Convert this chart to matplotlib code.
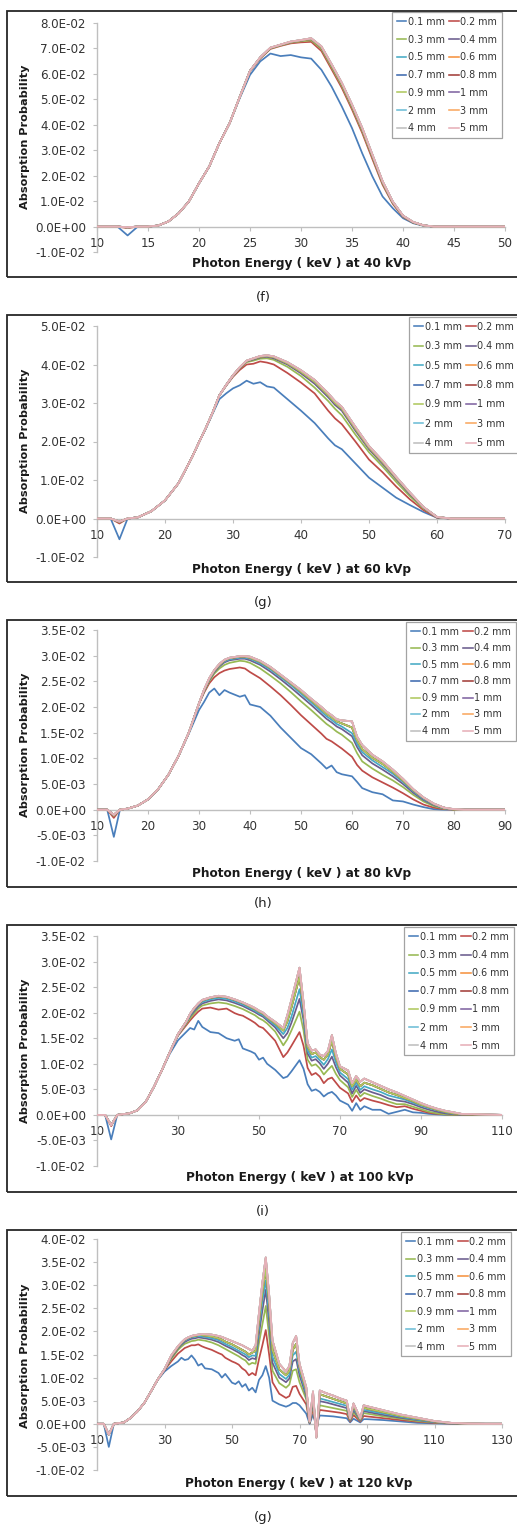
import numpy as np
import matplotlib
matplotlib.use("Agg")
import matplotlib.pyplot as plt
from matplotlib.ticker import FuncFormatter
from matplotlib.patches import Rectangle
from matplotlib.lines import Line2D

# ---------------- data (absorption probability in units of 1e-3) ----------------
LABELS = ['0.1 mm', '0.2 mm', '0.3 mm', '0.4 mm', '0.5 mm', '0.6 mm', '0.7 mm',
          '0.8 mm', '0.9 mm', '1 mm', '2 mm', '3 mm', '4 mm', '5 mm']
COLORS = ['#4A7EBB', '#BE4B48', '#98B954', '#6A5D8E', '#46AAC5', '#F69240', '#3F6AB0',
          '#A33E3A', '#AFC95F', '#8064A2', '#6DBDD6', '#F9A860', '#BFBFBF', '#E6B0B8']

# 40 kVp
E40 = [10, 12, 13, 14, 15, 16, 17, 18, 19, 20, 21, 22, 23, 24,
       25, 26, 27, 28, 29, 30, 31, 32, 33, 34, 35, 36, 37, 38, 39, 40, 41, 42, 43, 50]
Y40_01 = [0, 0, -3.5, 0, 0, 0.4, 2.0, 5.2, 9.8, 17.0, 23.6, 32.8, 40.6, 50.5,
          59.6, 64.9, 68.0, 67.0, 67.4, 66.5, 66.0, 61.6, 55.0, 47.2, 38.7, 28.8, 19.7, 11.8, 7.2, 3.3, 1.3, 0.3, 0, 0]
Y40_02 = [0, 0, -0.6, 0, 0, 0.4, 2.0, 5.2, 9.8, 17.0, 23.6, 32.8, 40.6, 51.0,
          61.0, 66.0, 69.8, 71.0, 72.0, 72.4, 72.6, 69.0, 61.8, 54.5, 46.0, 36.8, 26.5, 16.4, 8.9, 3.8, 1.5, 0.4, 0, 0]
Y40_03 = [0, 0, -0.4, 0, 0, 0.4, 2.0, 5.2, 9.8, 17.0, 23.6, 32.8, 40.6, 51.0,
          61.1, 66.2, 70.0, 71.2, 72.3, 72.8, 73.2, 69.8, 62.6, 55.3, 46.8, 37.6, 27.3, 17.0, 9.3, 4.0, 1.6, 0.4, 0, 0]
Y40_mid = [0, 0, -0.3, 0, 0, 0.4, 2.0, 5.2, 9.8, 17.0, 23.6, 32.8, 40.6, 51.0,
           61.2, 66.4, 70.2, 71.4, 72.5, 73.1, 73.7, 70.4, 63.3, 56.0, 47.5, 38.3, 27.9, 17.5, 9.6, 4.2, 1.7, 0.5, 0, 0]
Y40_top = [0, 0, -0.3, 0, 0, 0.4, 2.0, 5.2, 9.8, 17.0, 23.6, 32.8, 40.6, 51.0,
           61.2, 66.5, 70.3, 71.5, 72.7, 73.3, 74.0, 70.8, 63.8, 56.5, 48.0, 38.8, 28.3, 17.8, 9.8, 4.3, 1.8, 0.5, 0, 0]

# 60 kVp
E60 = [10, 12, 13.3, 14.5, 16, 18, 20, 22, 24, 25, 26, 27,
       28, 29, 30, 31, 32, 33, 34, 35, 36,
       38, 40, 42, 44, 45, 46, 48,
       50, 52, 54, 56, 58, 60, 62, 70]
Y60_01 = [0, 0, -5.4, 0, 0.3, 1.9, 4.7, 9.2, 16.0, 19.8, 23.3, 27.2,
          31.0, 32.5, 33.8, 34.6, 35.8, 35.0, 35.4, 34.3, 34.0,
          31.0, 28.0, 24.8, 20.8, 19.0, 18.0, 14.3,
          10.6, 8.0, 5.4, 3.5, 1.7, 0.2, 0, 0]
Y60_02 = [0, 0, -1.3, 0, 0.3, 1.9, 4.7, 9.2, 16.0, 19.8, 23.5, 27.5,
          32.0, 34.5, 36.8, 38.6, 40.0, 40.2, 40.8, 40.5, 40.0,
          37.8, 35.3, 32.5, 28.0, 26.0, 24.5, 20.0,
          15.3, 12.0, 8.3, 5.0, 2.2, 0.2, 0, 0]
Y60_03 = [0, 0, -1.0, 0, 0.3, 1.9, 4.7, 9.2, 16.0, 19.8, 23.5, 27.5,
          32.0, 34.6, 37.0, 39.0, 40.6, 41.0, 41.5, 41.6, 41.2,
          39.4, 37.0, 34.0, 30.5, 28.5, 26.8, 21.8,
          17.2, 13.5, 9.5, 5.8, 2.6, 0.3, 0, 0]
Y60_04 = [0, 0, -0.9, 0, 0.3, 1.9, 4.7, 9.2, 16.0, 19.8, 23.5, 27.5,
          32.0, 34.6, 37.1, 39.1, 40.8, 41.3, 41.8, 42.0, 41.6,
          40.0, 37.7, 35.0, 31.5, 29.5, 28.0, 22.8,
          18.0, 14.2, 10.2, 6.3, 2.8, 0.3, 0, 0]
Y60_mid = [0, 0, -0.8, 0, 0.3, 1.9, 4.7, 9.2, 16.0, 19.8, 23.5, 27.5,
           32.0, 34.7, 37.2, 39.2, 40.9, 41.5, 42.0, 42.2, 41.9,
           40.3, 38.1, 35.5, 32.0, 30.0, 28.5, 23.3,
           18.4, 14.6, 10.5, 6.6, 2.9, 0.4, 0, 0]
Y60_top = [0, 0, -0.8, 0, 0.3, 1.9, 4.7, 9.2, 16.0, 19.8, 23.5, 27.5,
           32.0, 34.7, 37.2, 39.3, 41.0, 41.6, 42.2, 42.4, 42.1,
           40.6, 38.5, 36.0, 32.5, 30.5, 29.0, 23.8,
           18.8, 15.0, 10.8, 6.8, 3.0, 0.4, 0, 0]

# 80 kVp
E80 = [10, 12, 13.3, 14.5, 16, 18, 20, 22, 24, 26, 28, 30,
       31, 32, 33, 34, 35, 36,
       38, 39, 40,
       42, 44, 46, 48, 50, 52, 54,
       55, 56, 57, 58,
       60, 61, 62, 64, 66, 68, 70, 72, 74, 76, 78, 80, 82, 90]
Y80_01 = [0, 0, -5.3, 0, 0.2, 0.8, 2.0, 4.0, 6.8, 10.5, 14.8, 19.4,
          21.0, 22.8, 23.6, 22.3, 23.3, 22.8,
          22.0, 22.3, 20.5,
          20.0, 18.3, 16.0, 14.0, 12.0, 10.8, 9.0,
          8.0, 8.6, 7.3, 6.9,
          6.5, 5.4, 4.2, 3.4, 3.0, 1.8, 1.6, 1.0, 0.5, 0.1, 0, 0, 0, 0]
Y80_02 = [0, 0, -1.6, 0, 0.2, 0.8, 2.0, 4.0, 6.8, 10.5, 15.0, 20.6,
          22.8, 24.6, 25.8, 26.6, 27.1, 27.4,
          27.7, 27.5, 26.8,
          25.6, 24.0, 22.3, 20.4, 18.4, 16.6, 14.8,
          13.8, 13.3, 12.6, 11.9,
          10.3, 8.7, 7.6, 6.3, 5.3, 4.3, 3.2, 2.0, 1.0, 0.4, 0.1, 0, 0, 0]
Y80_03 = [0, 0, -1.2, 0, 0.2, 0.8, 2.0, 4.0, 6.8, 10.5, 15.0, 20.7,
          23.0, 25.0, 26.5, 27.5, 28.2, 28.6,
          29.0, 28.9, 28.6,
          27.5, 26.1, 24.6, 22.9, 21.1, 19.4, 17.6,
          16.7, 16.0, 15.2, 14.6,
          13.0, 11.0, 9.4, 8.0, 6.8, 5.7, 4.4, 2.9, 1.6, 0.7, 0.2, 0, 0, 0]
Y80_04 = [0, 0, -1.1, 0, 0.2, 0.8, 2.0, 4.0, 6.8, 10.5, 15.0, 20.7,
          23.1, 25.2, 26.8, 27.9, 28.7, 29.1,
          29.4, 29.4, 29.1,
          28.2, 26.9, 25.4, 23.8, 22.1, 20.4, 18.6,
          17.7, 17.0, 16.2, 15.7,
          14.3, 12.2, 10.6, 9.0, 7.8, 6.5, 5.0, 3.3, 1.9, 0.9, 0.3, 0, 0, 0]
Y80_05 = [0, 0, -1.0, 0, 0.2, 0.8, 2.0, 4.0, 6.8, 10.5, 15.0, 20.7,
          23.2, 25.3, 27.0, 28.1, 28.9, 29.3,
          29.6, 29.6, 29.4,
          28.5, 27.3, 25.8, 24.3, 22.6, 20.9, 19.1,
          18.2, 17.5, 16.7, 16.2,
          14.9, 12.8, 11.2, 9.6, 8.3, 7.0, 5.4, 3.6, 2.1, 1.0, 0.3, 0, 0, 0]
Y80_mid = [0, 0, -1.0, 0, 0.2, 0.8, 2.0, 4.0, 6.8, 10.5, 15.0, 20.7,
           23.3, 25.4, 27.1, 28.2, 29.1, 29.5,
           29.8, 29.8, 29.6,
           28.8, 27.6, 26.1, 24.6, 23.0, 21.3, 19.6,
           18.7, 18.0, 17.2, 16.8,
           16.0, 13.5, 11.8, 10.1, 8.9, 7.4, 5.7, 3.8, 2.3, 1.1, 0.4, 0, 0, 0]
Y80_top = [0, 0, -1.0, 0, 0.2, 0.8, 2.0, 4.0, 6.8, 10.5, 15.0, 20.7,
           23.4, 25.6, 27.2, 28.4, 29.2, 29.6,
           29.9, 29.9, 29.8,
           29.0, 27.8, 26.3, 24.8, 23.3, 21.6, 20.0,
           19.1, 18.4, 17.6, 17.4,
           17.2, 14.2, 12.6, 10.7, 9.4, 7.8, 6.0, 4.0, 2.4, 1.2, 0.4, 0.1, 0, 0]

# 100 kVp
E100 = [10, 12, 13.5, 15, 16, 18, 20, 22, 24, 26, 28, 30,
        32, 33, 34, 35, 36,
        38, 40, 42, 44, 45, 46, 48, 49, 50, 51, 52, 54,
        56, 57, 58, 60, 61, 62, 63, 64, 65, 66, 67, 68, 69, 70,
        72, 73, 74, 75, 76, 78,
        80, 82, 84, 86, 88, 90, 92, 94, 96, 98, 100, 110]
Y100_01 = [0, 0, -4.8, 0, 0.1, 0.3, 0.9, 2.5, 5.4, 8.7, 12.0, 14.6,
           16.2, 17.0, 16.7, 18.4, 17.2,
           16.2, 16.0, 15.0, 14.5, 14.8, 13.0, 12.4, 12.0, 10.8, 11.2, 10.0, 8.8,
           7.2, 7.5, 8.5, 10.7, 9.0, 6.0, 4.7, 5.0, 4.5, 3.6, 4.2, 4.5, 3.8, 2.8,
           2.0, 0.8, 2.3, 1.0, 1.7, 1.0,
           1.0, 0.2, 0.6, 1.0, 0.5, 0.4, 0.2, 0.1, 0, 0, 0, 0]
Y100_02 = [0, 0, -2.2, 0, 0.1, 0.3, 0.9, 2.5, 5.4, 8.7, 12.3, 15.5,
           17.5, 18.5, 19.4, 20.2, 20.8,
           21.0, 20.6, 20.8, 19.9, 19.6, 19.4, 18.5, 18.0, 17.3, 17.0, 16.2, 14.5,
           11.3, 12.2, 13.5, 16.2, 13.5, 9.2, 7.8, 8.2, 7.5, 6.2, 7.0, 7.3, 6.3, 5.3,
           4.2, 2.5, 3.8, 2.7, 3.3, 2.8,
           2.4, 1.9, 1.5, 1.7, 1.2, 0.8, 0.4, 0.2, 0.1, 0, 0, 0]
Y100_03 = [0, 0, -2.0, 0, 0.1, 0.3, 0.9, 2.5, 5.4, 8.7, 12.3, 15.6,
           17.8, 18.9, 19.9, 20.8, 21.4,
           21.8, 22.0, 21.8, 21.3, 21.0, 20.7, 19.9, 19.5, 18.9, 18.5, 17.9, 16.3,
           13.6, 14.8, 16.5, 20.2, 16.5, 10.8, 9.6, 9.9, 9.1, 7.9, 8.8, 9.6, 8.0, 6.8,
           5.4, 3.5, 4.9, 3.6, 4.3, 3.7,
           3.2, 2.6, 2.1, 2.1, 1.6, 1.1, 0.6, 0.3, 0.1, 0, 0, 0]
Y100_04 = [0, 0, -2.0, 0, 0.1, 0.3, 0.9, 2.5, 5.4, 8.7, 12.3, 15.7,
           18.0, 19.3, 20.3, 21.2, 21.8,
           22.3, 22.6, 22.4, 21.9, 21.6, 21.3, 20.5, 20.1, 19.6, 19.2, 18.5, 17.1,
           15.0, 16.0, 18.0, 22.7, 18.5, 12.0, 10.6, 10.9, 10.1, 9.0, 10.0, 11.4, 9.3, 7.7,
           6.3, 4.2, 5.7, 4.3, 5.0, 4.4,
           3.9, 3.2, 2.8, 2.6, 2.1, 1.5, 1.0, 0.6, 0.3, 0.1, 0, 0]
Y100_05 = [0, 0, -2.0, 0, 0.1, 0.3, 0.9, 2.5, 5.4, 8.7, 12.3, 15.7,
           18.1, 19.5, 20.6, 21.5, 22.1,
           22.6, 22.9, 22.7, 22.2, 21.9, 21.6, 20.8, 20.4, 19.9, 19.5, 18.8, 17.5,
           15.8, 17.0, 19.2, 24.6, 19.5, 12.6, 11.2, 11.5, 10.7, 9.8, 10.9, 12.8, 10.2, 8.3,
           7.0, 4.9, 6.3, 4.9, 5.6, 5.0,
           4.5, 3.8, 3.4, 3.0, 2.4, 1.8, 1.3, 0.9, 0.5, 0.2, 0.1, 0]
Y100_mid = [0, 0, -2.0, 0, 0.1, 0.3, 0.9, 2.5, 5.4, 8.7, 12.3, 15.8,
            18.2, 19.7, 20.8, 21.7, 22.4,
            22.9, 23.2, 23.0, 22.5, 22.2, 21.9, 21.1, 20.7, 20.2, 19.8, 19.1, 17.9,
            16.5, 18.3, 21.0, 27.0, 21.0, 13.4, 11.9, 12.2, 11.3, 10.8, 11.8, 14.5, 11.2, 9.0,
            7.9, 5.6, 6.9, 5.6, 6.3, 5.8,
            5.1, 4.4, 3.9, 3.3, 2.7, 2.0, 1.5, 1.0, 0.6, 0.3, 0.1, 0]
Y100_top = [0, 0, -2.0, 0, 0.1, 0.3, 0.9, 2.5, 5.4, 8.7, 12.3, 15.8,
            18.2, 19.8, 20.9, 21.8, 22.5,
            23.0, 23.3, 23.1, 22.6, 22.3, 22.0, 21.3, 20.9, 20.4, 20.0, 19.3, 18.2,
            17.0, 19.5, 22.5, 28.8, 22.0, 14.0, 12.6, 12.8, 11.8, 11.5, 12.5, 15.6, 12.0, 9.5,
            8.7, 6.2, 7.6, 6.5, 7.1, 6.4,
            5.7, 5.0, 4.4, 3.7, 3.0, 2.3, 1.7, 1.2, 0.8, 0.5, 0.2, 0]

# 120 kVp
E120 = [10, 12, 13.5, 15, 16, 18, 20, 22, 24, 26, 28, 30,
        32, 34, 35, 36, 37, 38, 39, 40, 41, 42,
        44, 46, 47, 48, 50, 51, 52, 53, 54, 55, 56, 57,
        58, 59, 60, 61, 62, 64, 66, 67, 68, 69, 70,
        72, 73, 74, 75, 76, 78,
        80, 82, 84, 85, 86, 88, 89, 90,
        95, 100, 105, 110, 115, 120, 125, 130]
Y120_01 = [0, 0, -5.0, 0, 0.1, 0.3, 1.3, 2.7, 4.5, 7.0, 9.5, 11.3,
           12.5, 13.5, 14.3, 13.8, 14.0, 14.8, 13.9, 12.6, 13.0, 12.0,
           11.8, 11.0, 10.0, 10.8, 8.9, 8.6, 9.2, 8.0, 8.6, 7.2, 7.8, 6.8,
           9.5, 10.5, 12.5, 10.0, 5.0, 4.2, 3.7, 4.0, 4.5, 4.5, 4.0,
           2.2, 0.0, 2.0, -0.5, 1.8, 1.7,
           1.6, 1.4, 1.2, 0.3, 1.1, 0.3, 1.0, 1.0,
           0.8, 0.5, 0.2, 0.1, 0, 0, 0, 0]
Y120_02 = [0, 0, -2.3, 0, 0.1, 0.3, 1.3, 2.7, 4.5, 7.0, 9.6, 11.6,
           13.5, 15.2, 15.8, 16.4, 16.7, 17.0, 17.0, 17.2, 16.8, 16.5,
           16.0, 15.3, 15.0, 14.3, 13.5, 13.2, 12.8, 12.0, 11.5, 10.5, 11.0, 10.5,
           14.0, 17.0, 20.3, 15.0, 9.0, 6.5, 5.6, 6.0, 8.0, 8.2, 6.5,
           4.2, 0.1, 3.3, -1.2, 3.0, 2.8,
           2.6, 2.4, 2.1, 0.5, 1.9, 0.5, 1.7, 1.6,
           1.2, 0.8, 0.45, 0.2, 0.05, 0, 0, 0]
Y120_03 = [0, 0, -2.3, 0, 0.1, 0.3, 1.3, 2.7, 4.5, 7.0, 9.6, 11.7,
           14.0, 16.0, 16.7, 17.3, 17.6, 17.9, 18.0, 18.2, 18.1, 18.0,
           17.6, 17.0, 16.6, 16.2, 15.4, 15.0, 14.6, 14.1, 13.7, 12.8, 13.2, 13.0,
           17.5, 21.5, 25.5, 19.0, 11.5, 8.8, 7.8, 8.5, 11.5, 11.8, 9.0,
           5.3, 0.2, 4.3, -1.8, 4.0, 3.7,
           3.4, 3.1, 2.8, 0.7, 2.5, 0.7, 2.3, 2.2,
           1.6, 1.1, 0.6, 0.3, 0.08, 0, 0, 0]
Y120_04 = [0, 0, -2.3, 0, 0.1, 0.3, 1.3, 2.7, 4.5, 7.0, 9.6, 11.7,
           14.3, 16.3, 17.1, 17.7, 18.1, 18.4, 18.5, 18.7, 18.6, 18.5,
           18.2, 17.7, 17.3, 16.9, 16.2, 15.8, 15.4, 14.9, 14.5, 13.8, 14.2, 14.0,
           19.5, 24.5, 29.0, 22.0, 13.2, 10.0, 9.0, 9.8, 13.5, 14.0, 10.5,
           6.0, 0.2, 5.0, -2.2, 4.9, 4.6,
           4.2, 3.8, 3.4, 0.8, 3.0, 0.8, 2.7, 2.6,
           1.9, 1.3, 0.8, 0.35, 0.1, 0, 0, 0]
Y120_05 = [0, 0, -2.3, 0, 0.1, 0.3, 1.3, 2.7, 4.5, 7.0, 9.6, 11.8,
           14.5, 16.5, 17.3, 18.0, 18.4, 18.7, 18.8, 19.0, 18.9, 18.8,
           18.5, 18.1, 17.7, 17.3, 16.6, 16.2, 15.8, 15.4, 15.0, 14.4, 14.8, 14.7,
           21.0, 26.5, 31.0, 24.0, 14.5, 10.8, 9.7, 10.6, 14.8, 15.6, 11.5,
           6.5, 0.3, 5.5, -2.5, 5.5, 5.1,
           4.7, 4.3, 3.9, 0.9, 3.4, 0.9, 3.0, 2.9,
           2.2, 1.5, 0.9, 0.4, 0.12, 0, 0, 0]
Y120_mid = [0, 0, -2.3, 0, 0.1, 0.3, 1.3, 2.7, 4.5, 7.0, 9.6, 11.8,
            14.6, 16.6, 17.5, 18.2, 18.6, 18.9, 19.0, 19.2, 19.2, 19.1,
            18.9, 18.5, 18.2, 17.8, 17.2, 16.8, 16.4, 16.0, 15.6, 15.0, 15.4, 15.8,
            22.5, 28.5, 33.5, 26.0, 16.0, 11.8, 10.5, 11.5, 16.0, 17.3, 12.3,
            7.2, 0.4, 6.2, -2.8, 6.4, 5.9,
            5.4, 4.9, 4.4, 1.0, 3.9, 1.0, 3.5, 3.3,
            2.5, 1.7, 1.1, 0.5, 0.15, 0.03, 0, 0]
Y120_top = [0, 0, -2.3, 0, 0.1, 0.3, 1.3, 2.7, 4.5, 7.0, 9.6, 11.8,
            14.8, 16.8, 17.6, 18.3, 18.7, 19.0, 19.2, 19.3, 19.4, 19.4,
            19.3, 19.0, 18.8, 18.5, 17.9, 17.6, 17.3, 17.0, 16.6, 16.2, 15.8, 17.0,
            24.0, 30.5, 36.0, 28.0, 18.0, 13.0, 11.3, 12.5, 17.5, 19.0, 13.0,
            7.9, 0.5, 7.0, -3.0, 7.2, 6.6,
            6.1, 5.5, 5.0, 1.2, 4.4, 1.2, 4.0, 3.8,
            2.9, 2.0, 1.3, 0.6, 0.2, 0.05, 0, 0]

TITLES = ['Photon Energy ( keV ) at 40 kVp', 'Photon Energy ( keV ) at 60 kVp',
          'Photon Energy ( keV ) at 80 kVp', 'Photon Energy ( keV ) at 100 kVp',
          'Photon Energy ( keV ) at 120 kVp']
CAPTIONS = ['(f)', '(g)', '(h)', '(i)', '(g)']

# ---------------- layout ----------------
W, H = 517, 1527
fig = plt.figure(figsize=(W / 100, H / 100), dpi=100)
fig.patch.set_facecolor('white')


def fx(x):
    return x / W


def fy(y):
    return 1 - y / H


PANELS = [
    dict(E=E40, S=[Y40_01, Y40_02, Y40_03] + [Y40_mid] * 6 + [Y40_top] * 5,
         xlim=(10, 50), xstep=5, ylim=(-0.01, 0.08), ystep=0.01,
         box=(11, 277), ax=(97, 505, 23, 252), title_xy=(302, 264), ylab_y=137,
         leg=(392, 12), ls=0.81, cap_y=297),
    dict(E=E60, S=[Y60_01, Y60_02, Y60_03, Y60_04] + [Y60_mid] * 5 + [Y60_top] * 5,
         xlim=(10, 70), xstep=10, ylim=(-0.01, 0.05), ystep=0.01,
         box=(315, 582), ax=(97, 505, 326, 557), title_xy=(302, 569), ylab_y=441,
         leg=(409, 317), ls=0.98, cap_y=602),
    dict(E=E80, S=[Y80_01, Y80_02, Y80_03, Y80_04, Y80_05] + [Y80_mid] * 4 + [Y80_top] * 5,
         xlim=(10, 90), xstep=10, ylim=(-0.01, 0.035), ystep=0.005,
         box=(620, 887), ax=(97, 505, 630, 861), title_xy=(302, 873), ylab_y=745,
         leg=(406, 622), ls=0.68, cap_y=903),
    dict(E=E100, S=[Y100_01, Y100_02, Y100_03, Y100_04, Y100_05] + [Y100_mid] * 4 + [Y100_top] * 5,
         xlim=(10, 110), xstep=20, ylim=(-0.01, 0.035), ystep=0.005,
         box=(925, 1192), ax=(97, 502, 936, 1166), title_xy=(300, 1178), ylab_y=1051,
         leg=(404, 927), ls=0.85, cap_y=1211),
    dict(E=E120, S=[Y120_01, Y120_02, Y120_03, Y120_04, Y120_05] + [Y120_mid] * 4 + [Y120_top] * 5,
         xlim=(10, 130), xstep=20, ylim=(-0.01, 0.04), ystep=0.005,
         box=(1230, 1496), ax=(97, 502, 1239, 1470), title_xy=(299, 1483), ylab_y=1356,
         leg=(401, 1232), ls=0.78, cap_y=1517),
]


def sci(v, pos):
    if abs(v) < 1e-12:
        v = 0.0
    return f"{v:.1E}"


AXIS_GREY = '#BFBFBF'
TICK_TXT = '#333333'

for i, P in enumerate(PANELS):
    # outer frame
    top, bot = P['box']
    fig.patches.append(Rectangle((fx(7), fy(bot)), fx(520) - fx(7), fy(top) - fy(bot),
                                 transform=fig.transFigure, fill=False,
                                 edgecolor='#262626', lw=1.3, zorder=0))
    x0, x1, yt, yb = P['ax']
    ax = fig.add_axes([fx(x0), fy(yb), fx(x1) - fx(x0), fy(yt) - fy(yb)])
    ax.set_facecolor('none')
    for k, (lab, col, ys) in enumerate(zip(LABELS, COLORS, P['S'])):
        assert len(ys) == len(P['E']), (i, k, len(ys), len(P['E']))
        ax.plot(P['E'], np.asarray(ys) * 1e-3, color=col, lw=1.25, label=lab,
                solid_joinstyle='round', zorder=3 + k)
    ax.set_xlim(*P['xlim'])
    ax.set_ylim(*P['ylim'])
    ax.set_xticks(np.arange(P['xlim'][0], P['xlim'][1] + 0.1, P['xstep']))
    yt_vals = np.round(np.arange(P['ylim'][0], P['ylim'][1] + 1e-9, P['ystep']), 6)
    ax.set_yticks(yt_vals)
    ax.yaxis.set_major_formatter(FuncFormatter(sci))
    ax.xaxis.set_major_formatter(FuncFormatter(lambda v, p: f"{int(round(v))}"))
    for s in ('top', 'right'):
        ax.spines[s].set_visible(False)
    ax.spines['bottom'].set_position(('data', 0))
    ax.spines['bottom'].set_color(AXIS_GREY)
    ax.spines['left'].set_color(AXIS_GREY)
    ax.spines['bottom'].set_linewidth(1.0)
    ax.spines['left'].set_linewidth(1.0)
    ax.spines['bottom'].set_zorder(2)
    ax.tick_params(axis='y', length=3, width=0.8, color=AXIS_GREY, pad=5.0,
                   labelsize=8.6, labelcolor=TICK_TXT, direction='out')
    ax.tick_params(axis='x', length=3, width=0.8, color=AXIS_GREY, pad=4.5,
                   labelsize=8.6, labelcolor=TICK_TXT, direction='out')
    # axis titles
    tx, ty = P['title_xy']
    fig.text(fx(tx), fy(ty), TITLES[i], ha='center', va='center',
             fontsize=8.7, fontweight='bold', color='#1a1a1a')
    fig.text(fx(25), fy(P['ylab_y']), 'Absorption Probability', ha='center', va='center',
             rotation=90, fontsize=8.1, fontweight='bold', color='#1a1a1a')
    # legend (row-major like Excel: col1 = odd entries, col2 = even entries)
    handles = [Line2D([], [], color=c, lw=1.15) for c in COLORS]
    order = list(range(0, 14, 2)) + list(range(1, 14, 2))
    lx, ly = P['leg']
    leg = ax.legend([handles[j] for j in order], [LABELS[j] for j in order], ncol=2,
                    loc='upper left', bbox_to_anchor=(fx(lx), fy(ly)),
                    bbox_transform=fig.transFigure, borderaxespad=0,
                    fontsize=6.9, handlelength=1.0, handletextpad=0.15,
                    columnspacing=0.45, labelspacing=P['ls'], borderpad=0.5,
                    frameon=True, fancybox=False)
    leg.get_frame().set_edgecolor('#8c8c8c')
    leg.get_frame().set_linewidth(0.9)
    for t in leg.get_texts():
        t.set_color('#333333')
    # caption
    fig.text(fx(263), fy(P['cap_y']), CAPTIONS[i], ha='center', va='center',
             fontsize=9.5, color='#222222')

fig.savefig('out.png', dpi=100, facecolor='white')
